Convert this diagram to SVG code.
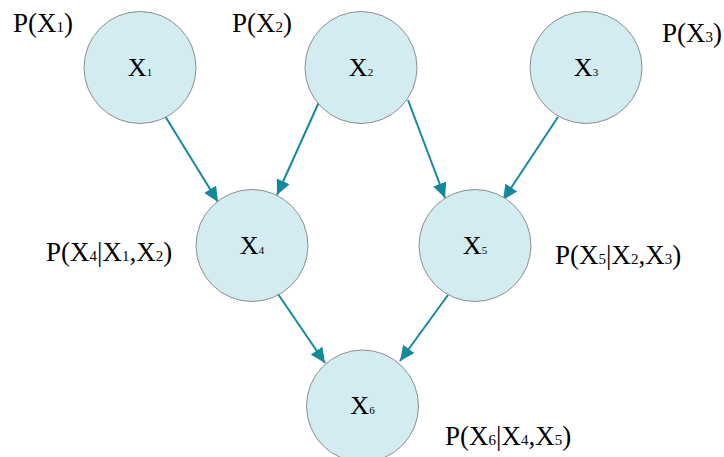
<svg xmlns="http://www.w3.org/2000/svg" width="724" height="457" viewBox="0 0 724 457">
<style>
.node{fill:#D3ECF1;stroke:#8E8E8E;stroke-width:1}
.nt{font-family:"Liberation Serif",serif;font-size:26px;fill:#000;text-anchor:middle}
.lb{font-family:"Liberation Serif",serif;font-size:27px;fill:#000}
.s{font-size:15px}
.ns{font-size:11px}
.edge{stroke:#138A9C;stroke-width:2;fill:none;marker-end:url(#ah)}
</style>
<defs>
<marker id="ah" markerUnits="userSpaceOnUse" markerWidth="16" markerHeight="14" refX="15" refY="7" orient="auto">
<path d="M0,0 L15,7 L0,14 Z" fill="#138A9C"/>
</marker>
</defs>
<g id="connectors">
<line class="edge" x1="165" y1="116" x2="218" y2="202"/>
<line class="edge" x1="319" y1="102" x2="277" y2="195"/>
<line class="edge" x1="408" y1="100" x2="445" y2="198"/>
<line class="edge" x1="558" y1="117" x2="503" y2="200"/>
<line class="edge" x1="278" y1="294" x2="325" y2="363"/>
<line class="edge" x1="448" y1="295" x2="400" y2="361"/>
</g>
<g id="X1"><circle class="node" cx="140" cy="67.5" r="56"/><text class="nt" x="140" y="75.5">X<tspan class="ns">1</tspan></text></g>
<g id="X2"><circle class="node" cx="361" cy="67.5" r="56"/><text class="nt" x="361" y="75.5">X<tspan class="ns">2</tspan></text></g>
<g id="X3"><circle class="node" cx="586" cy="67.5" r="56"/><text class="nt" x="586" y="75.5">X<tspan class="ns">3</tspan></text></g>
<g id="X4"><circle class="node" cx="252" cy="245.5" r="56"/><text class="nt" x="252" y="253.5">X<tspan class="ns">4</tspan></text></g>
<g id="X5"><circle class="node" cx="475" cy="245.5" r="56"/><text class="nt" x="475" y="253.5">X<tspan class="ns">5</tspan></text></g>
<g id="X6"><circle class="node" cx="362.5" cy="406" r="56"/><text class="nt" x="362.5" y="414">X<tspan class="ns">6</tspan></text></g>
<g id="labels">
<text class="lb" x="13" y="32">P(X<tspan class="s">1</tspan>)</text>
<text class="lb" x="232" y="32">P(X<tspan class="s">2</tspan>)</text>
<text class="lb" x="662" y="42">P(X<tspan class="s">3</tspan>)</text>
<text class="lb" x="46" y="261">P(X<tspan class="s">4</tspan>|X<tspan class="s">1</tspan>,X<tspan class="s">2</tspan>)</text>
<text class="lb" x="555" y="264">P(X<tspan class="s">5</tspan>|X<tspan class="s">2</tspan>,X<tspan class="s">3</tspan>)</text>
<text class="lb" x="445" y="445">P(X<tspan class="s">6</tspan>|X<tspan class="s">4</tspan>,X<tspan class="s">5</tspan>)</text>
</g>
</svg>
